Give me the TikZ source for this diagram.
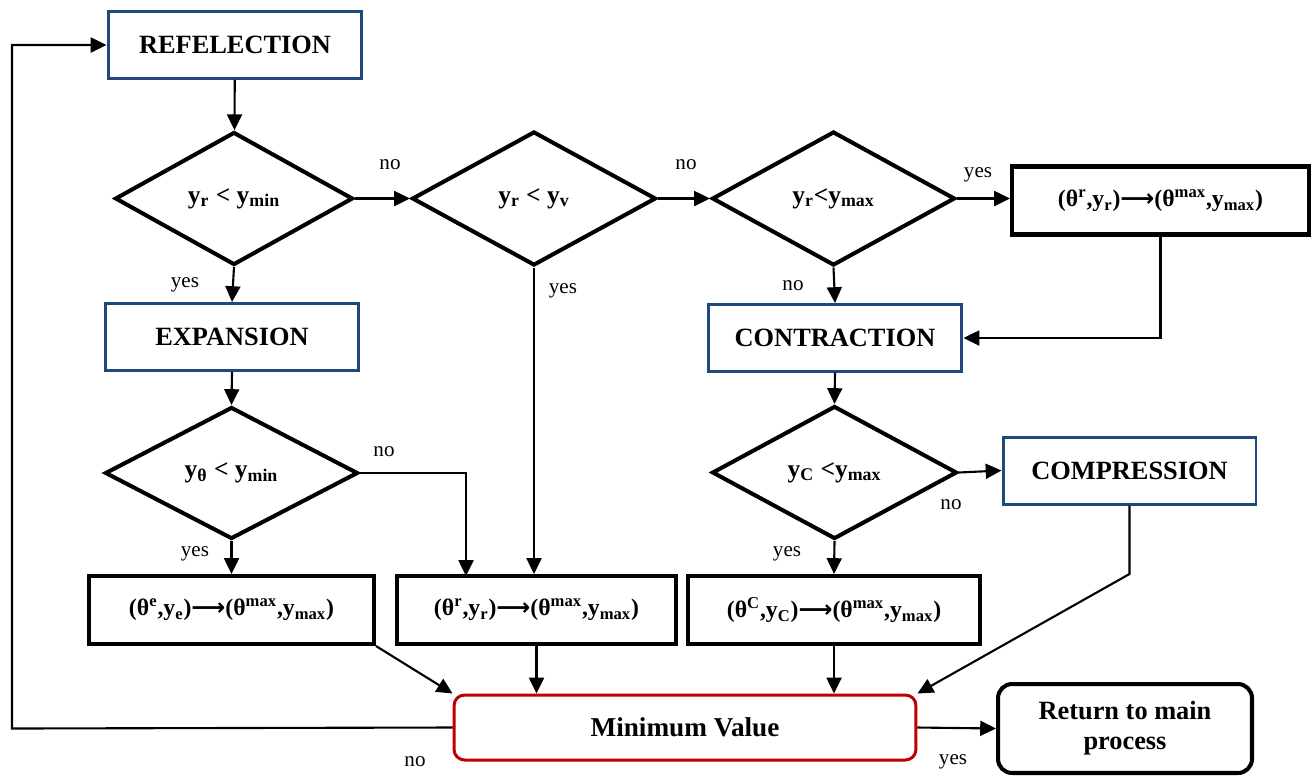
\documentclass[tikz,border=0pt]{standalone}
\usepackage{fontspec}
\setmainfont{Liberation Serif}
\newfontfamily\arrowfont{DejaVu Sans}
\usetikzlibrary{shapes.geometric,arrows.meta}

\definecolor{stageblue}{RGB}{31,73,125}
\definecolor{minred}{RGB}{192,0,0}

% y with a subscript, theta with a superscript
\newcommand\ysub[1]{y\textsubscript{#1}}
\newcommand\thsup[1]{θ\textsuperscript{#1}}
\newcommand\goesto{{\arrowfont\bfseries ⟶}}

\tikzset{
  stage/.style={draw=stageblue, line width=1.7pt, minimum width=5.08cm, minimum height=1.34cm,
    font=\fontsize{15}{17}\selectfont\bfseries},
  test/.style={diamond, draw, line width=2.3pt, inner sep=0pt,
    font=\fontsize{14.5}{16}\selectfont\bfseries},
  update/.style={draw, line width=2.3pt, minimum height=1.36cm,
    font=\fontsize{13.5}{15}\selectfont\bfseries},
  flow/.style={line width=1.2pt, -{Triangle[length=9pt,width=8.5pt]}},
  lbl/.style={font=\fontsize{12}{14}\selectfont},
}

\begin{document}
\begin{tikzpicture}[x=0.02cm, y=-0.02cm]
  \useasboundingbox (0,0) rectangle (1314,775);

  % stages
  \node[stage] (refl) at (235,45) {REFELECTION};
  \node[stage] (expn) at (232,337) {EXPANSION};
  \node[stage] (contr) at (835,338) {CONTRACTION};
  \node[stage, minimum width=5.06cm] (comp) at (1129.5,470.5) {COMPRESSION};

  % tests
  \node[test, minimum width=4.76cm, minimum height=2.66cm] (d1) at (234,198.5) {\ysub{r} < \ysub{min}};
  \node[test, minimum width=4.88cm, minimum height=2.68cm] (d2) at (534,198.5) {\ysub{r} < \ysub{v}};
  \node[test, minimum width=4.86cm, minimum height=2.68cm] (d3) at (833.5,198.5) {\ysub{r}<\ysub{max}};
  \node[test, minimum width=5.06cm, minimum height=2.64cm] (d4) at (231.5,473) {\ysub{θ} < \ysub{min}};
  \node[test, minimum width=4.9cm, minimum height=2.66cm] (d5) at (834.5,472.5) {y\textsubscript{C} <\ysub{max}};

  % replacements
  \node[update, minimum width=5.94cm] (updr) at (1160.5,200.5) {(\thsup{r},\ysub{r})\goesto(\thsup{max},\ysub{max})};
  \node[update, minimum width=5.7cm] (upd1) at (231.5,610) {(\thsup{e},\ysub{e})\goesto(\thsup{max},\ysub{max})};
  \node[update, minimum width=5.58cm] (upd2) at (536.5,610) {(\thsup{r},\ysub{r})\goesto(\thsup{max},\ysub{max})};
  \node[update, minimum width=5.84cm] (upd3) at (834,610) {(\thsup{C},\ysub{C})\goesto(\thsup{max},\ysub{max})};

  % end of the loop
  \node[draw=minred, line width=1.7pt, rounded corners=6pt, minimum width=9.24cm, minimum height=1.3cm,
    font=\fontsize{15.5}{17}\selectfont\bfseries] (minv) at (685,727.5) {Minimum Value};
  \node[draw, line width=2.3pt, rounded corners=8pt, minimum width=5.08cm, minimum height=1.78cm,
    align=center, font=\fontsize{15}{17}\selectfont\bfseries] (ret) at (1125,728.5) {Return to main\\process};

  \coordinate (r2in) at (466,576);
  \coordinate (loop) at (12,728.5);

  % connectors
  \draw[flow] (refl) -- (d1);
  \draw[flow] (d1.east) -- (d2.west);
  \draw[flow] (d2.east) -- (d3.west);
  \draw[flow] (d3.east) -- (d3.east -| updr.west);
  \draw[flow] (d1.south) -- (expn.north);
  \draw[flow] (d2.south) -- (d2.south |- upd2.north);
  \draw[flow] (d3.south) -- (contr.north);
  \draw[flow] (updr.south) |- (contr.east);
  \draw[flow] (expn.south) -- (d4.north);
  \draw[flow] (d4.east) -| (r2in);
  \draw[flow] (d4.south) -- (upd1.north);
  \draw[flow] (contr.south) -- (d5.north);
  \draw[flow] (d5.east) -- (comp.west);
  \draw[flow] (d5.south) -- (upd3.north);
  \draw[flow] (upd1.south east) -- (minv.north west);
  \draw[flow] (upd2.south) -- (upd2.south |- minv.north);
  \draw[flow] (upd3.south) -- (upd3.south |- minv.north);
  \draw[flow] (comp.south) -- (comp.south |- upd3.north) -- (minv.north east);
  \draw[flow] (minv.east) -- (ret.west);
  \draw[flow] (minv.west) -- (loop) |- (refl.west);

  % branch labels
  \node[lbl] at (390,165) {no};
  \node[lbl] at (686,165) {no};
  \node[lbl] at (978,175) {yes};
  \node[lbl] at (185,285) {yes};
  \node[lbl] at (563,291) {yes};
  \node[lbl] at (793,286) {no};
  \node[lbl] at (384,452) {no};
  \node[lbl] at (195,554) {yes};
  \node[lbl] at (951,505) {no};
  \node[lbl] at (787,554) {yes};
  \node[lbl] at (415,762) {no};
  \node[lbl] at (953,762) {yes};
\end{tikzpicture}
\end{document}
